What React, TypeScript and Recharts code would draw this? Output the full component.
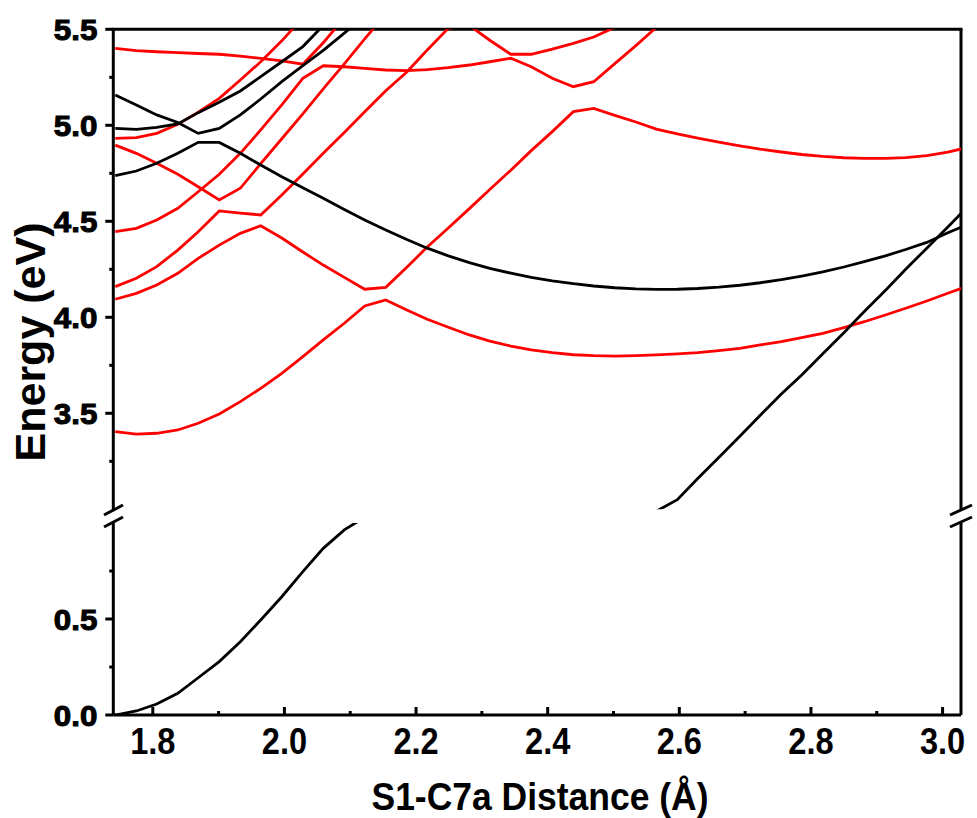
import React from "react";
import { LineChart, Line, XAxis, YAxis, ReferenceLine } from "recharts";

// S1-C7a distance (Å) of each computed geometry
const distance = [
  1.743, 1.775, 1.806, 1.838, 1.869, 1.901, 1.933, 1.964, 1.996, 2.028,
  2.059, 2.091, 2.122, 2.154, 2.186, 2.217, 2.249, 2.281, 2.312, 2.344,
  2.375, 2.407, 2.439, 2.47, 2.502, 2.534, 2.565, 2.597, 2.628, 2.66,
  2.692, 2.723, 2.755, 2.786, 2.818, 2.85, 2.881, 2.913, 2.944, 2.976,
  3.008, 3.039,
];

// black curves (eV)
const s0 = [
  0.0, 0.021, 0.057, 0.113, 0.194, 0.278, 0.382, 0.495, 0.616, 0.747,
  0.868, 0.964, 1.03, null, null, null, null, null, null, null,
  null, null, null, null, null, null, 2.99, 3.05, 3.16, 3.27,
  3.38, 3.49, 3.6, 3.7, 3.81, 3.92, 4.03, 4.14, 4.25, 4.36,
  4.47, 4.58,
];
const s1 = [
  4.738, 4.762, 4.802, 4.854, 4.911, 4.911, 4.854, 4.793, 4.732, 4.675,
  4.62, 4.562, 4.507, 4.455, 4.405, 4.36, 4.32, 4.285, 4.255, 4.23,
  4.208, 4.19, 4.175, 4.163, 4.154, 4.148, 4.145, 4.146, 4.15, 4.157,
  4.167, 4.18, 4.196, 4.215, 4.237, 4.262, 4.29, 4.32, 4.353, 4.39,
  4.44, 4.485,
];
const s2 = [4.984, 4.979, 4.989, 5.007, 5.066, 5.12, 5.179, 5.253, 5.331, 5.41, 5.52];
const s3 = [5.158, 5.106, 5.054, 5.015, 4.958, 4.984, 5.054, 5.137, 5.227, 5.311, 5.39, 5.48, 5.57];

// red curves (eV)
const t1 = [
  3.404, 3.392, 3.396, 3.413, 3.448, 3.496, 3.561, 3.63, 3.708, 3.795,
  3.882, 3.969, 4.059, 4.09, 4.038, 3.99, 3.948, 3.908, 3.876, 3.85,
  3.83, 3.816, 3.805, 3.8, 3.798, 3.8, 3.804, 3.809, 3.816, 3.826,
  3.838, 3.856, 3.873, 3.894, 3.916, 3.946, 3.977, 4.012, 4.047, 4.085,
  4.125, 4.163,
];
const t2 = [
  4.094, 4.125, 4.168, 4.229, 4.307, 4.376, 4.437, 4.477, 4.413, 4.34,
  4.272, 4.208, 4.146, 4.156, 4.261, 4.366, 4.465, 4.566, 4.666, 4.766,
  4.868, 4.967, 5.071, 5.088, 5.052, 5.017, 4.98, 4.955, 4.933, 4.912,
  4.893, 4.876, 4.861, 4.848, 4.838, 4.831, 4.828, 4.828, 4.832, 4.842,
  4.86, 4.886,
];
const t3 = [
  4.16, 4.203, 4.264, 4.35, 4.446, 4.554, 4.543, 4.533, 4.637, 4.746,
  4.854, 4.963, 5.071, 5.18, 5.278, 5.392, 5.505, 5.52, 5.443, 5.37,
  5.37, 5.397, 5.427, 5.46, 5.51, 5.57,
];
const t4 = [
  4.446, 4.463, 4.507, 4.568, 4.654, 4.745, 4.854, 4.976, 5.106, 5.245,
  5.31, 5.305, 5.297, 5.288, 5.285, 5.29, 5.3, 5.314, 5.331, 5.349,
  5.305, 5.245, 5.201, 5.227, 5.321, 5.415, 5.51,
];
const t5 = [4.897, 4.854, 4.802, 4.745, 4.68, 4.611, 4.672, 4.8, 4.93, 5.06, 5.19, 5.32, 5.45, 5.58];
const t6 = [4.932, 4.936, 4.958, 5.005, 5.068, 5.14, 5.236, 5.331, 5.44, 5.56];
const t7 = [5.401, 5.389, 5.383, 5.378, 5.374, 5.37, 5.36, 5.349, 5.335, 5.318, 5.43, 5.56];

const X_MAJOR = [1.8, 2.0, 2.2, 2.4, 2.6, 2.8, 3.0];
const X_MINOR = [1.9, 2.1, 2.3, 2.5, 2.7, 2.9];
const UP_MAJOR = [3.5, 4.0, 4.5, 5.0, 5.5];
const UP_MINOR = [3.25, 3.75, 4.25, 4.75, 5.25];
const LOW_MAJOR = [0.0, 0.5];
const LOW_MINOR = [0.25, 0.75];

const X_DOMAIN = [1.74, 3.028];
const FONT = '"Liberation Sans", Arial, sans-serif';

const series = [
  { key: "t1", color: "#ff0000", values: t1 },
  { key: "t2", color: "#ff0000", values: t2 },
  { key: "t3", color: "#ff0000", values: t3 },
  { key: "t4", color: "#ff0000", values: t4 },
  { key: "t5", color: "#ff0000", values: t5 },
  { key: "t6", color: "#ff0000", values: t6 },
  { key: "t7", color: "#ff0000", values: t7 },
  { key: "s0", color: "#000000", values: s0 },
  { key: "s1", color: "#000000", values: s1 },
  { key: "s2", color: "#000000", values: s2 },
  { key: "s3", color: "#000000", values: s3 },
];

const rows = distance.map((x, i) => {
  const row: Record<string, number | null> = { x };
  series.forEach((s) => {
    const v = s.values[i];
    row[s.key] = v === undefined ? null : v;
  });
  return row;
});

const sorted = (a: number[], b: number[]) => [...a, ...b].sort((p, q) => p - q);

function YTick({ x, y, payload, majors }: any) {
  const major = majors.includes(payload.value);
  return (
    <g>
      <line x1={x - (major ? 8 : 4)} x2={x} y1={y} y2={y} stroke="#000" strokeWidth={3} />
      {major && (
        <text
          transform={`translate(${x - 16} ${y + 10.5}) scale(1.08 1)`}
          textAnchor="end"
          fontFamily={FONT}
          fontWeight="bold"
          fontSize={29}
          fill="#000"
          stroke="#000"
          strokeWidth={1}
        >
          {payload.value.toFixed(1)}
        </text>
      )}
    </g>
  );
}

function XTick({ x, y, payload }: any) {
  const major = X_MAJOR.includes(payload.value);
  return (
    <g>
      <line x1={x} x2={x} y1={y} y2={y - (major ? 8 : 4)} stroke="#000" strokeWidth={3} />
      {major && (
        <text
          transform={`translate(${x} ${y + 39}) scale(0.88 1)`}
          textAnchor="middle"
          fontFamily={FONT}
          fontWeight="bold"
          fontSize={37}
          fill="#000"
        >
          {payload.value.toFixed(1)}
        </text>
      )}
    </g>
  );
}

const axisLine = { stroke: "#000", strokeWidth: 3 };

export default function App() {
  const box: React.CSSProperties = { position: "absolute", left: 0, top: 0 };
  return (
    <div style={{ position: "absolute", left: 0, top: 0, width: 977, height: 818, background: "#fff" }}>
      <div style={box}>
        <LineChart width={977} height={818} data={rows} margin={{ top: 29.3, right: 16, bottom: 308.7, left: 53.3 }}>
          <XAxis dataKey="x" type="number" domain={X_DOMAIN} allowDataOverflow hide />
          <YAxis
            type="number"
            domain={[3, 5.5]}
            allowDataOverflow
            width={60}
            ticks={sorted(UP_MAJOR, UP_MINOR)}
            interval={0}
            tickSize={0}
            tickMargin={0}
            tickLine={false}
            axisLine={axisLine}
            tick={(p: any) => <YTick {...p} majors={UP_MAJOR} />}
          />
          <ReferenceLine y={5.5} stroke="#000" strokeWidth={3} strokeLinecap="square" />
          <ReferenceLine x={X_DOMAIN[1]} stroke="#000" strokeWidth={3} />
          {series.map((s) => (
            <Line
              key={s.key}
              type="linear"
              dataKey={s.key}
              stroke={s.color}
              strokeWidth={2.8}
              dot={false}
              activeDot={false}
              connectNulls={false}
              isAnimationActive={false}
            />
          ))}
        </LineChart>
      </div>
      <div style={box}>
        <LineChart width={977} height={818} data={rows} margin={{ top: 523, right: 16, bottom: 73, left: 53.3 }}>
          <XAxis
            dataKey="x"
            type="number"
            domain={X_DOMAIN}
            allowDataOverflow
            height={30}
            ticks={sorted(X_MAJOR, X_MINOR)}
            interval={0}
            tickSize={0}
            tickMargin={0}
            tickLine={false}
            axisLine={axisLine}
            tick={(p: any) => <XTick {...p} />}
          />
          <YAxis
            type="number"
            domain={[0, 1]}
            allowDataOverflow
            width={60}
            ticks={sorted(LOW_MAJOR, LOW_MINOR)}
            interval={0}
            tickSize={0}
            tickMargin={0}
            tickLine={false}
            axisLine={axisLine}
            tick={(p: any) => <YTick {...p} majors={LOW_MAJOR} />}
          />
          <ReferenceLine x={X_DOMAIN[1]} stroke="#000" strokeWidth={3} />
          <Line
            type="linear"
            dataKey="s0"
            stroke="#000000"
            strokeWidth={2.8}
            dot={false}
            activeDot={false}
            connectNulls={false}
            isAnimationActive={false}
          />
        </LineChart>
      </div>
      <svg width={977} height={818} style={{ ...box, pointerEvents: "none" }}>
        <g stroke="#000" strokeWidth={3}>
          <line x1={104} y1={515} x2={123} y2={505} />
          <line x1={104} y1={527} x2={123} y2={517} />
          <line x1={950} y1={515} x2={972} y2={505} />
          <line x1={950} y1={527} x2={972} y2={517} />
        </g>
        <text
          transform="translate(540 810) scale(0.91 1)"
          textAnchor="middle"
          fontFamily={FONT}
          fontWeight="bold"
          fontSize={39}
          fill="#000"
        >
          S1-C7a Distance (Å)
        </text>
        <text
          transform="translate(45 342) rotate(-90)"
          textAnchor="middle"
          fontFamily={FONT}
          fontWeight="bold"
          fontSize={43}
          fill="#000"
        >
          Energy (eV)
        </text>
      </svg>
    </div>
  );
}
